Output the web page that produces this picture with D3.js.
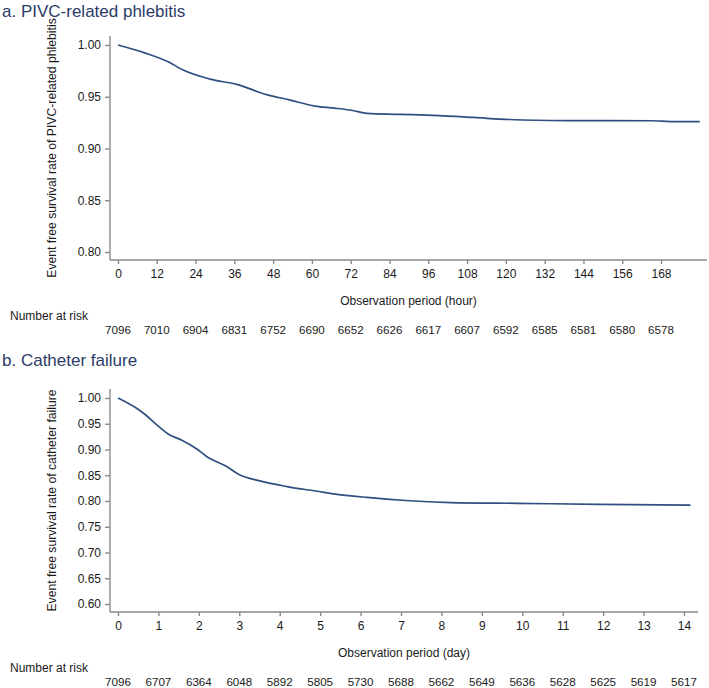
<!DOCTYPE html>
<html>
<head>
<meta charset="utf-8">
<script src="https://cdn.jsdelivr.net/npm/d3@7"></script>
<style>
  body { margin: 0; background: #fff; }
  svg text { font-family: "Liberation Sans", Arial, Helvetica, sans-serif; }
  .axis path, .axis line { stroke: #8a8a8a; stroke-width: 1.4; }
  .axis text { fill: #1a1a1a; font-size: 12px; }
</style>
</head>
<body>
<div id="chart"></div>
<script>
// Panel a: PIVC-related phlebitis (hours)
var hoursA = [0, 8, 16, 20, 28.5, 36.7, 46, 53, 61, 67, 73, 77, 87, 97.5, 110, 121, 139, 165, 172, 180];
var survA  = [1.000, 0.9926, 0.983, 0.976, 0.967, 0.962, 0.952, 0.947, 0.941, 0.939, 0.9365, 0.934, 0.933, 0.932, 0.930, 0.928, 0.927, 0.9268, 0.926, 0.926];
var ticksA = [0, 12, 24, 36, 48, 60, 72, 84, 96, 108, 120, 132, 144, 156, 168];
var riskA  = [7096, 7010, 6904, 6831, 6752, 6690, 6652, 6626, 6617, 6607, 6592, 6585, 6581, 6580, 6578];
var yTicksA = [0.80, 0.85, 0.90, 0.95, 1.00];

// Panel b: Catheter failure (days)
var daysB = [0, 0.46, 0.67, 0.96, 1.25, 1.58, 1.95, 2.2, 2.69, 2.98, 3.51, 4.18, 4.92, 5.33, 6.16, 7.1, 8.22, 9.87, 11.93, 14.16];
var survB = [1.000, 0.980, 0.968, 0.948, 0.9295, 0.918, 0.901, 0.886, 0.867, 0.852, 0.839, 0.828, 0.819, 0.814, 0.807, 0.801, 0.797, 0.7955, 0.7935, 0.792];
var ticksB = [0, 1, 2, 3, 4, 5, 6, 7, 8, 9, 10, 11, 12, 13, 14];
var riskB  = [7096, 6707, 6364, 6048, 5892, 5805, 5730, 5688, 5662, 5649, 5636, 5628, 5625, 5619, 5617];
var yTicksB = [0.60, 0.65, 0.70, 0.75, 0.80, 0.85, 0.90, 0.95, 1.00];

var W = 709, H = 688;

var svg = d3.select("#chart").append("svg")
    .attr("width", W)
    .attr("height", H);

function panel(o) {
    var g = svg.append("g").attr("transform", "translate(0," + o.top + ")");

    var x = d3.scaleLinear().domain([0, o.xMax]).range([118, o.xEnd]);
    var y = d3.scaleLinear().domain([o.yMin, 1]).range([o.yBottom, 9]);

    // title
    g.append("text")
        .attr("x", 2).attr("y", o.titleY)
        .attr("fill", "#2b3b68")
        .style("font-size", "17px")
        .text(o.title);

    // axis lines (frame extends past the tick range)
    g.append("line")
        .attr("x1", 110).attr("x2", 110)
        .attr("y1", 0).attr("y2", o.yBottom + 8)
        .attr("stroke", "#8a8a8a").attr("stroke-width", 1.4);
    g.append("line")
        .attr("x1", 110).attr("x2", o.axisEnd)
        .attr("y1", o.yBottom + 8).attr("y2", o.yBottom + 8)
        .attr("stroke", "#8a8a8a").attr("stroke-width", 1.4);

    var yAxis = d3.axisLeft(y)
        .tickValues(o.yTicks)
        .tickSize(5)
        .tickPadding(4)
        .tickFormat(d3.format(".2f"));
    g.append("g")
        .attr("class", "y axis")
        .attr("transform", "translate(110,0)")
        .call(yAxis)
        .call(s => s.select(".domain").remove());

    var xAxis = d3.axisBottom(x)
        .tickValues(o.xTicks)
        .tickSize(4)
        .tickPadding(5)
        .tickFormat(d => d);
    g.append("g")
        .attr("class", "x axis")
        .attr("transform", "translate(0," + (o.yBottom + 8) + ")")
        .call(xAxis)
        .call(s => s.select(".domain").remove());

    // y title
    g.append("text")
        .attr("transform", "translate(56," + ((o.yBottom + 8) / 2) + ") rotate(-90)")
        .attr("text-anchor", "middle")
        .attr("fill", "#1a1a1a")
        .style("font-size", "12.2px")
        .text(o.yTitle);

    // x title
    g.append("text")
        .attr("x", (110 + o.axisEnd) / 2)
        .attr("y", o.yBottom + 53)
        .attr("text-anchor", "middle")
        .attr("fill", "#1a1a1a")
        .style("font-size", "12px")
        .text(o.xTitle);

    // number at risk
    g.append("text")
        .attr("x", 10).attr("y", o.yBottom + 68)
        .attr("fill", "#1a1a1a")
        .style("font-size", "12px")
        .text("Number at risk");
    g.selectAll("text.risk")
        .data(o.risk)
      .enter().append("text")
        .attr("class", "risk")
        .attr("x", (d, i) => x(o.xTicks[i]))
        .attr("y", o.yBottom + 82)
        .attr("text-anchor", "middle")
        .attr("fill", "#1a1a1a")
        .style("font-size", "11.6px")
        .text(d => d);

    // survival curve
    var line = d3.line()
        .x(d => x(d[0]))
        .y(d => y(d[1]))
        .curve(d3.curveMonotoneX);
    g.append("path")
        .datum(d3.zip(o.xs, o.ys))
        .attr("fill", "none")
        .attr("stroke", "#2f4f80")
        .attr("stroke-width", 1.7)
        .attr("d", line);
}

panel({
    top: 36, titleY: -19, title: "a. PIVC-related phlebitis",
    xs: hoursA, ys: survA, xTicks: ticksA, risk: riskA, yTicks: yTicksA,
    xMax: 168, xEnd: 661, axisEnd: 707, yMin: 0.80, yBottom: 216,
    yTitle: "Event free survival rate of PIVC-related phlebitis",
    xTitle: "Observation period (hour)"
});

panel({
    top: 389, titleY: -23, title: "b. Catheter failure",
    xs: daysB, ys: survB, xTicks: ticksB, risk: riskB, yTicks: yTicksB,
    xMax: 14, xEnd: 684, axisEnd: 698, yMin: 0.60, yBottom: 215,
    yTitle: "Event free survival rate of catheter failure",
    xTitle: "Observation period (day)"
});
</script>
</body>
</html>
